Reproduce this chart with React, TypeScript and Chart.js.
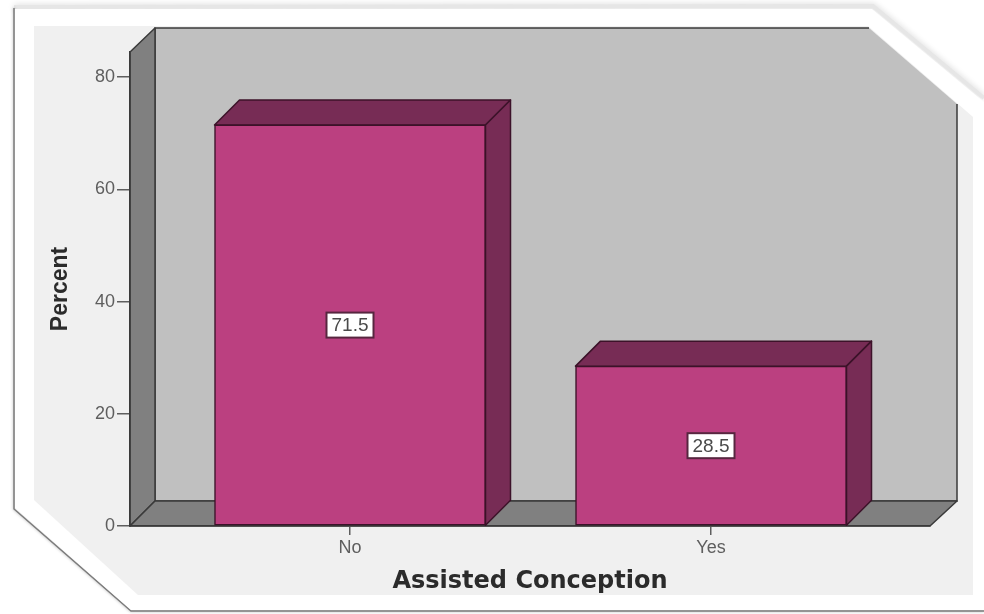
import React, { useEffect, useRef } from "react";
import { Chart, registerables } from "chart.js";

Chart.register(...registerables);

const categories = ["No", "Yes"];
const percentValues = [71.5, 28.5];
const percentTicks = [0, 20, 40, 60, 80];

const DEPTH = 25;
const BAR_FRONT = "#bb4080";
const BAR_SIDE = "#772c55";
const BAR_EDGE = "#3c1229";
const WALL_SIDE = "#808080";
const WALL_BACK = "#c0c0c0";
const WALL_EDGE = "#3a3a3a";
const TICK_COLOR = "#5e5e5e";
const FONT = "'Liberation Sans', Arial, sans-serif";

function path(ctx: CanvasRenderingContext2D, pts: number[][]) {
  ctx.beginPath();
  pts.forEach(([x, y], i) => (i ? ctx.lineTo(x, y) : ctx.moveTo(x, y)));
  ctx.closePath();
}

function face(ctx: CanvasRenderingContext2D, pts: number[][], fill: string, stroke: string, lw = 1.5) {
  path(ctx, pts);
  ctx.fillStyle = fill;
  ctx.fill();
  ctx.lineWidth = lw;
  ctx.strokeStyle = stroke;
  ctx.lineJoin = "round";
  ctx.stroke();
}

// Page frame with cut corners, the pale panel and the three walls of the box.
const boxPlugin = {
  id: "box",
  beforeDraw(chart: any) {
    const { ctx } = chart;
    const { left: l, right: r, top: t, bottom: b } = chart.chartArea;
    ctx.save();
    ctx.fillStyle = "#ffffff";
    ctx.fillRect(0, 0, chart.width, chart.height);

    // soft upper edge of the frame
    ctx.beginPath();
    ctx.moveTo(14, 7);
    ctx.lineTo(873, 6);
    ctx.lineTo(984, 98);
    ctx.strokeStyle = "#e6e6e6";
    ctx.lineWidth = 4;
    ctx.shadowColor = "rgba(0,0,0,0.18)";
    ctx.shadowBlur = 6;
    ctx.stroke();

    // harder left and lower edges
    ctx.beginPath();
    ctx.moveTo(14, 8);
    ctx.lineTo(14, 509);
    ctx.lineTo(131, 611);
    ctx.lineTo(984, 611);
    ctx.strokeStyle = "#7c7c7c";
    ctx.lineWidth = 1.5;
    ctx.shadowColor = "rgba(0,0,0,0.35)";
    ctx.shadowBlur = 3;
    ctx.stroke();
    ctx.shadowBlur = 0;
    ctx.shadowColor = "transparent";

    // inner white field of the frame, then the pale panel
    path(ctx, [[15, 9], [872, 9], [984, 102], [984, 610], [131, 610], [15, 508]]);
    ctx.fillStyle = "#ffffff";
    ctx.fill();
    path(ctx, [[34, 26], [868, 26], [973, 117], [973, 595], [138, 595], [34, 500]]);
    ctx.fillStyle = "#f0f0f0";
    ctx.fill();

    // back wall, cut across its upper right corner
    const cutX = r - 61;
    const cutY = t + 52;
    const backR = r + DEPTH + 2;
    path(ctx, [[l + DEPTH, t - DEPTH + 1], [cutX, t - DEPTH + 1], [backR, cutY], [backR, b - DEPTH], [l + DEPTH, b - DEPTH]]);
    ctx.fillStyle = WALL_BACK;
    ctx.fill();
    ctx.strokeStyle = WALL_EDGE;
    ctx.lineWidth = 1.5;
    ctx.beginPath();
    ctx.moveTo(cutX, t - DEPTH + 1);
    ctx.lineTo(l + DEPTH, t - DEPTH + 1);
    ctx.lineTo(l + DEPTH, b - DEPTH);
    ctx.lineTo(backR, b - DEPTH);
    ctx.lineTo(backR, cutY);
    ctx.stroke();

    // left wall and floor
    face(ctx, [[l, t], [l + DEPTH, t - DEPTH + 1], [l + DEPTH, b - DEPTH], [l, b]], WALL_SIDE, WALL_EDGE);
    face(ctx, [[l, b], [l + DEPTH, b - DEPTH], [backR, b - DEPTH], [r, b]], WALL_SIDE, WALL_EDGE);
    ctx.restore();
  },
};

// Top and right faces of each bar, plus the boxed value label on its front.
const barDepthPlugin = {
  id: "barDepth",
  beforeDatasetsDraw(chart: any) {
    const { ctx } = chart;
    ctx.save();
    chart.getDatasetMeta(0).data.forEach((bar: any) => {
      const p = bar.getProps(["x", "y", "base", "width"], true);
      const l = p.x - p.width / 2;
      const r = p.x + p.width / 2;
      face(ctx, [[l, p.y], [l + DEPTH, p.y - DEPTH], [r + DEPTH, p.y - DEPTH], [r, p.y]], BAR_SIDE, BAR_EDGE);
      face(ctx, [[r, p.y], [r + DEPTH, p.y - DEPTH], [r + DEPTH, p.base - DEPTH], [r, p.base]], BAR_SIDE, BAR_EDGE);
    });
    ctx.restore();
  },
  afterDatasetsDraw(chart: any) {
    const { ctx } = chart;
    ctx.save();
    chart.getDatasetMeta(0).data.forEach((bar: any, i: number) => {
      const p = bar.getProps(["x", "y", "base"], true);
      const cy = (p.y + p.base) / 2;
      const w = 47;
      const h = 25;
      ctx.fillStyle = "#ffffff";
      ctx.strokeStyle = "#57263f";
      ctx.lineWidth = 2;
      ctx.fillRect(p.x - w / 2, cy - h / 2, w, h);
      ctx.strokeRect(p.x - w / 2, cy - h / 2, w, h);
      ctx.fillStyle = "#4a4a4a";
      ctx.font = `19px ${FONT}`;
      ctx.textAlign = "center";
      ctx.textBaseline = "middle";
      ctx.fillText(percentValues[i].toFixed(1), p.x, cy + 1);
    });
    ctx.restore();
  },
};

export default function App() {
  const ref = useRef<HTMLCanvasElement>(null);

  useEffect(() => {
    const chart = new Chart(ref.current!, {
      type: "bar",
      data: {
        datasets: [
          {
            label: "Percent",
            data: categories.map((_, i) => ({ x: i, y: percentValues[i] })),
            backgroundColor: BAR_FRONT,
            borderColor: BAR_EDGE,
            borderWidth: 1.5,
            borderSkipped: false,
            barThickness: 271,
          },
        ],
      },
      options: {
        animation: false,
        responsive: false,
        layout: { padding: { left: 47, right: 54, top: 52, bottom: 18 } },
        plugins: { legend: { display: false }, tooltip: { enabled: false } },
        scales: {
          x: {
            type: "linear",
            offset: false,
            min: -0.6094,
            max: 1.6066,
            afterFit: (s: any) => { s.height = 70; },
            afterBuildTicks: (s: any) => { s.ticks = categories.map((_, i) => ({ value: i })); },
            ticks: {
              callback: (v: any) => categories[v],
              color: TICK_COLOR,
              font: { family: FONT, size: 18 },
              padding: 2,
              maxRotation: 0,
            },
            grid: { offset: false, drawOnChartArea: false, color: TICK_COLOR, tickLength: 9, lineWidth: 1.5 },
            border: { color: WALL_EDGE, width: 1.5 },
            title: {
              display: true,
              text: "Assisted Conception",
              color: "#2b2b2b",
              font: { family: "'DejaVu Sans', sans-serif", size: 24, weight: "bold" },
              padding: 0,
            },
          },
          y: {
            min: 0,
            max: 84.5,
            afterFit: (s: any) => { s.width = 83; },
            afterBuildTicks: (s: any) => { s.ticks = percentTicks.map((value) => ({ value })); },
            ticks: {
              color: TICK_COLOR,
              font: { family: FONT, size: 18 },
              padding: 2,
            },
            grid: { drawOnChartArea: false, color: TICK_COLOR, tickLength: 13, lineWidth: 1.5 },
            border: { color: WALL_EDGE, width: 1.5 },
            title: {
              display: true,
              text: "Percent",
              color: "#2b2b2b",
              font: { family: FONT, size: 23, weight: "bold" },
              padding: 0,
            },
          },
        },
      },
      plugins: [boxPlugin, barDepthPlugin],
    } as any);
    return () => chart.destroy();
  }, []);

  return (
    <canvas
      ref={ref}
      width={984}
      height={614}
      style={{ position: "absolute", left: 0, top: 0, display: "block" }}
    />
  );
}
